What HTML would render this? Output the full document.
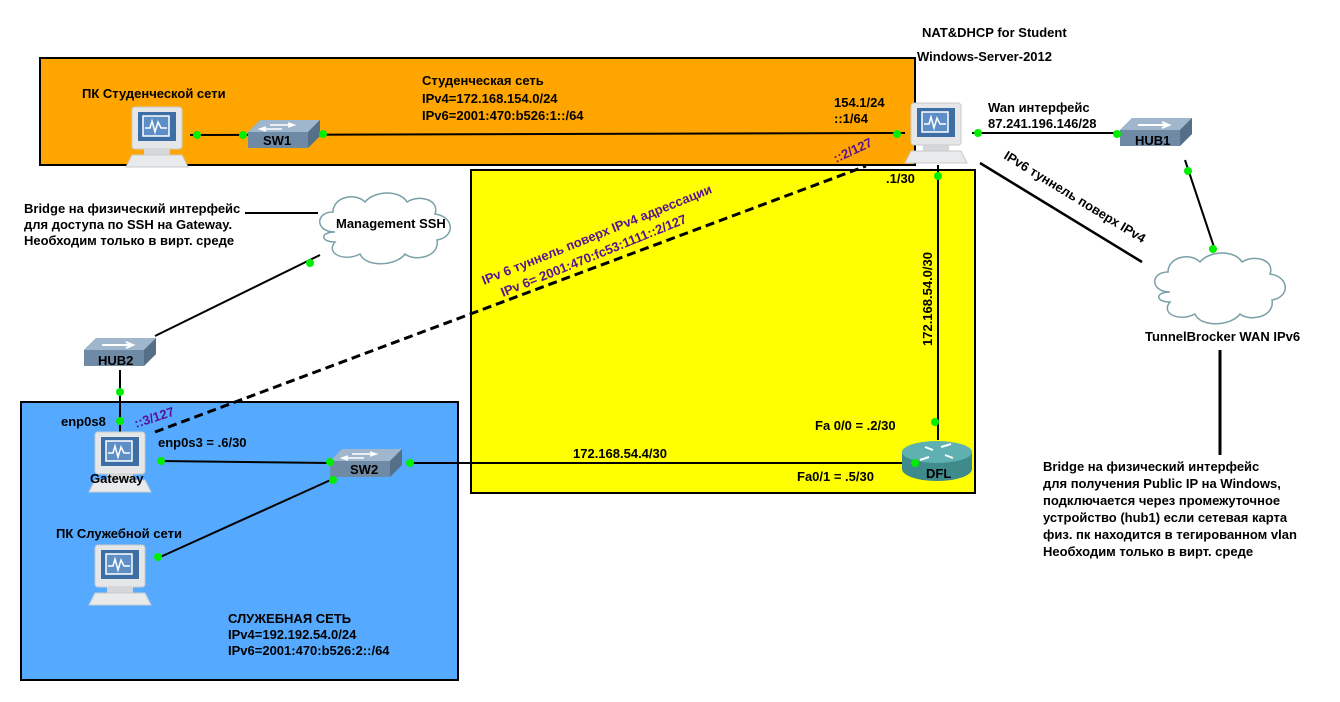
<!DOCTYPE html>
<html><head><meta charset="utf-8"><style>
html,body{margin:0;padding:0;background:#fff;}
svg{display:block;}
text{font-family:"Liberation Sans","DejaVu Sans",sans-serif;font-weight:bold;font-size:13px;fill:#000;}
.p{fill:#5a1090;}
</style></head><body>
<svg width="1340" height="702" viewBox="0 0 1340 702" xmlns="http://www.w3.org/2000/svg">
<defs>
<g id="pc">
  <rect x="6" y="0" width="50" height="42" rx="3" fill="#e4e6e8" stroke="#c8cacc"/>
  <rect x="12" y="5" width="38" height="29" fill="#3d6fa6"/>
  <rect x="17" y="9" width="26" height="20" fill="#5d8fc6" stroke="#fff" stroke-width="1.5"/>
  <polyline points="19,21 24,21 26,14 29,25 32,15 35,21 41,21" fill="none" stroke="#fff" stroke-width="1.5"/>
  <rect x="18" y="42" width="26" height="6" fill="#d4d6d8"/>
  <polygon points="6,48 56,48 62,60 0,60" fill="#e8eaec" stroke="#c8cacc"/>
</g>
<g id="sw">
  <polygon points="0,12 12,0 72,0 72,16 60,28 0,28" fill="#6f8aa5"/>
  <polygon points="0,12 12,0 72,0 60,12" fill="#9fb6cc"/>
  <polygon points="60,12 72,0 72,16 60,28" fill="#566f88"/>
  <path d="M22,5 h24 M40,3 l6,2 l-6,2 M34,9 h-22 M18,7 l-6,2 l6,2" stroke="#fff" stroke-width="1.5" fill="none"/>
</g>
<g id="hub">
  <polygon points="0,12 12,0 72,0 72,16 60,28 0,28" fill="#6f8aa5"/>
  <polygon points="0,12 12,0 72,0 60,12" fill="#9fb6cc"/>
  <polygon points="60,12 72,0 72,16 60,28" fill="#566f88"/>
  <path d="M18,7 h30 M42,4 l7,3 l-7,3" stroke="#fff" stroke-width="2" fill="none"/>
</g>
<g id="cloud">
  <path d="M20,40 C0,40 0,20 18,20 C18,5 40,0 50,10 C60,-2 85,-2 92,10 C105,2 125,8 120,22 C140,25 140,45 122,48 C125,65 100,70 90,62 C80,75 50,75 45,62 C30,70 10,62 20,50 C5,50 5,40 20,40 Z" fill="#fff" stroke="#7aa0a8" stroke-width="1.5"/>
</g>
</defs>

<rect x="40" y="58" width="875" height="107" fill="#ffa500" stroke="#000" stroke-width="2"/>
<rect x="471" y="170" width="504" height="323" fill="#ffff00" stroke="#000" stroke-width="2"/>
<rect x="21" y="402" width="437" height="278" fill="#55aaff" stroke="#000" stroke-width="2"/>

<g stroke="#000" stroke-width="2" fill="none">
<line x1="190" y1="135" x2="905" y2="133"/>
<line x1="972" y1="133" x2="1120" y2="133"/>
<line x1="1185" y1="160" x2="1215" y2="250"/>
<line x1="980" y1="163" x2="1142" y2="262" stroke-width="2.5"/>
<line x1="938" y1="165" x2="938" y2="440"/>
<line x1="410" y1="463" x2="905" y2="463"/>
<line x1="160" y1="461" x2="330" y2="463"/>
<line x1="158" y1="558" x2="335" y2="478"/>
<line x1="120" y1="370" x2="120" y2="432"/>
<line x1="155" y1="336" x2="320" y2="255"/>
<line x1="245" y1="213" x2="318" y2="213"/>
<line x1="1220" y1="350" x2="1220" y2="455" stroke-width="3"/>
<line x1="155" y1="432" x2="866" y2="166" stroke-width="3" stroke-dasharray="9,5"/>
</g>

<use href="#pc" x="126" y="107"/>
<use href="#sw" x="248" y="120"/>
<text x="263" y="145">SW1</text>
<use href="#pc" x="905" y="103"/>
<use href="#hub" x="1120" y="118"/>
<text x="1135" y="145">HUB1</text>
<use href="#cloud" x="1150" y="252"/>
<use href="#cloud" x="315" y="192"/>
<text x="336" y="228">Management SSH</text>
<use href="#hub" x="84" y="338"/>
<text x="98" y="365">HUB2</text>
<use href="#pc" x="89" y="432"/>
<text x="90" y="483">Gateway</text>
<use href="#sw" x="330" y="449"/>
<text x="350" y="474">SW2</text>
<use href="#pc" x="89" y="545"/>
<g>
  <path d="M902,452 v17 a35,12 0 0 0 70,0 v-17" fill="#3f8a8a"/>
  <ellipse cx="937" cy="452" rx="35" ry="11" fill="#5fb0b0"/>
  <path d="M925,447 l8,3 M941,447 l10,-3 M929,457 l-9,3 M945,455 l8,3" stroke="#fff" stroke-width="2"/>
  <text x="926" y="478" font-size="12">DFL</text>
</g>

<g fill="#00ee00">
<circle cx="197" cy="135" r="4"/><circle cx="243" cy="135" r="4"/><circle cx="323" cy="134" r="4"/>
<circle cx="897" cy="134" r="4"/><circle cx="978" cy="133" r="4"/><circle cx="1117" cy="134" r="4"/>
<circle cx="1188" cy="171" r="4"/><circle cx="1213" cy="249" r="4"/>
<circle cx="938" cy="176" r="4"/><circle cx="935" cy="422" r="4"/><circle cx="915" cy="463" r="4"/>
<circle cx="161" cy="461" r="4"/><circle cx="330" cy="462" r="4"/><circle cx="410" cy="463" r="4"/>
<circle cx="333" cy="480" r="4"/><circle cx="158" cy="557" r="4"/>
<circle cx="120" cy="392" r="4"/><circle cx="120" cy="421" r="4"/><circle cx="310" cy="263" r="4"/>
</g>

<text x="82" y="98">ПК Студенческой сети</text>
<text x="422" y="85">Студенческая сеть</text>
<text x="422" y="103">IPv4=172.168.154.0/24</text>
<text x="422" y="120">IPv6=2001:470:b526:1::/64</text>
<text x="922" y="37">NAT&amp;DHCP for Student</text>
<text x="917" y="61">Windows-Server-2012</text>
<text x="834" y="107">154.1/24</text>
<text x="834" y="123">::1/64</text>
<text x="988" y="112">Wan интерфейс</text>
<text x="988" y="128">87.241.196.146/28</text>
<text x="886" y="183">.1/30</text>
<text transform="translate(932,346) rotate(-90)">172.168.54.0/30</text>
<text x="815" y="430">Fa 0/0 = .2/30</text>
<text x="797" y="481">Fa0/1 = .5/30</text>
<text x="573" y="458">172.168.54.4/30</text>
<text transform="translate(1003,158) rotate(31.5)">IPv6 туннель поверх IPv4</text>
<text x="1145" y="341">TunnelBrocker WAN IPv6</text>
<text x="1043" y="471">Bridge на физический интерфейс</text>
<text x="1043" y="488">для получения Public IP на Windows,</text>
<text x="1043" y="505">подключается через промежуточное</text>
<text x="1043" y="522">устройство (hub1) если сетевая карта</text>
<text x="1043" y="539">физ. пк находится в тегированном vlan</text>
<text x="1043" y="556">Необходим только в вирт. среде</text>
<text x="24" y="213">Bridge на физический интерфейс</text>
<text x="24" y="229">для доступа по SSH на Gateway.</text>
<text x="24" y="245">Необходим только в вирт. среде</text>
<text class="p" transform="translate(484,285) rotate(-22)">IPv 6 туннель поверх IPv4 адрессации</text>
<text class="p" transform="translate(503,297) rotate(-22)">IPv 6= 2001:470:fc53:1111::2/127</text>
<text class="p" transform="translate(836,163) rotate(-25)">::2/127</text>
<text class="p" transform="translate(136,428) rotate(-18)">::3/127</text>
<text x="61" y="426">enp0s8</text>
<text x="158" y="447">enp0s3 = .6/30</text>
<text x="56" y="538">ПК Служебной сети</text>
<text x="228" y="623">СЛУЖЕБНАЯ СЕТЬ</text>
<text x="228" y="639">IPv4=192.192.54.0/24</text>
<text x="228" y="655">IPv6=2001:470:b526:2::/64</text>
</svg>
</body></html>
